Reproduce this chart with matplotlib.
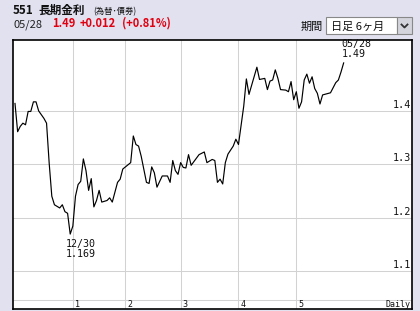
import matplotlib
matplotlib.use('Agg')
import matplotlib.pyplot as plt
from matplotlib.patches import Rectangle

plt.rcParams['font.family'] = ['Noto Sans CJK JP', 'DejaVu Sans']

# trading-day index and yield value
days = [0, 1, 2, 3, 4, 5, 6, 7, 8, 9, 11, 12, 13, 14, 15, 17, 18, 19, 20, 21,
        22, 23, 24, 25, 26, 27, 28, 29, 30, 31, 32, 33, 35, 36, 37, 39, 40, 41,
        44, 45, 46, 47, 48, 50, 51, 52, 53, 54, 56, 58, 59, 60, 61, 62, 63, 64,
        65, 66, 67, 70, 72, 73, 75, 76, 77, 78, 79, 80, 81, 83, 84, 85, 87, 88,
        89, 92, 93, 95, 96, 97, 98, 99, 100, 101, 103, 104, 105, 106, 107, 108,
        109, 110, 111, 112, 113, 114, 115, 116, 117, 120, 122, 123, 124, 125]
values = [1.414, 1.361, 1.371, 1.377, 1.374, 1.399, 1.399, 1.417, 1.417, 1.400,
          1.386, 1.377, 1.302, 1.240, 1.224, 1.218, 1.224, 1.211, 1.208, 1.169,
          1.184, 1.240, 1.262, 1.268, 1.310, 1.288, 1.251, 1.273, 1.220, 1.232,
          1.251, 1.229, 1.232, 1.237, 1.229, 1.266, 1.272, 1.291, 1.303, 1.353,
          1.337, 1.334, 1.315, 1.266, 1.264, 1.295, 1.284, 1.257, 1.278, 1.278,
          1.266, 1.307, 1.288, 1.281, 1.303, 1.294, 1.293, 1.318, 1.298, 1.318,
          1.323, 1.303, 1.309, 1.307, 1.266, 1.272, 1.263, 1.303, 1.319, 1.334,
          1.347, 1.337, 1.409, 1.460, 1.431, 1.482, 1.459, 1.461, 1.440, 1.456,
          1.458, 1.477, 1.461, 1.440, 1.439, 1.436, 1.455, 1.421, 1.436, 1.405,
          1.417, 1.458, 1.469, 1.452, 1.464, 1.442, 1.433, 1.413, 1.430, 1.434,
          1.453, 1.458, 1.473, 1.490]

month_starts = [22, 42, 63, 85, 107]
month_labels = ['1', '2', '3', '4', '5']
y_ticks = [1.1, 1.2, 1.3, 1.4]

low_idx, low_date, low_val = 21, '12/30', '1.169'
last_date, last_val = '05/28', '1.49'

bg = '#e1e1f0'
grid_c = '#d2d2d2'
mono = 'DejaVu Sans Mono'

fig = plt.figure(figsize=(4.2, 3.11), dpi=100)
fig.patch.set_facecolor(bg)
W, H = 420.0, 311.0

ax = fig.add_axes([13 / W, 2 / H, 399 / W, 269 / H])
ax.set_facecolor('white')
ax.set_xlim(-0.76, 151)
ax.set_ylim(1.0285, 1.533)
ax.set_xticks([])
ax.set_yticks([])
for s in ax.spines.values():
    s.set_color('black')
    s.set_linewidth(1.2)

for m in month_starts:
    ax.axvline(m, color=grid_c, lw=0.75, zorder=1)
for v in y_ticks:
    ax.axhline(v, color=grid_c, lw=0.75, zorder=1)
ax.axhline(1.0454, color=grid_c, lw=0.75, zorder=1)

ax.plot(days, values, color='black', lw=0.85, zorder=3)

# y labels inside, right side
for v in y_ticks:
    ax.annotate(f'{v:.1f}', xy=(1, v), xycoords=('axes fraction', 'data'),
                xytext=(-1, 1), textcoords='offset pixels',
                ha='right', va='bottom', fontsize=7.3, family=mono, color='#111')

# month labels at the bottom
for m, lab in zip(month_starts, month_labels):
    ax.annotate(lab, xy=(m, 0), xycoords=('data', 'axes fraction'),
                xytext=(2, 0), textcoords='offset pixels',
                ha='left', va='bottom', fontsize=6, family=mono, color='#111')
ax.annotate('Daily', xy=(1, 0), xycoords='axes fraction',
            xytext=(-1, 0), textcoords='offset pixels',
            ha='right', va='bottom', fontsize=6, family=mono, color='#111')

# low and last point notes
ax.annotate(f'{low_date}\n{low_val}', xy=(low_idx, values[days.index(low_idx)]),
            xytext=(-4, -5), textcoords='offset pixels', ha='left', va='top',
            fontsize=7.2, family=mono, linespacing=0.95, color='#111')
ax.annotate(f'{last_date}\n{last_val}', xy=(days[-1], values[-1]),
            xytext=(-2, 4), textcoords='offset pixels', ha='left', va='bottom',
            fontsize=7.2, family=mono, linespacing=0.95, color='#111')

# header
red = '#e0000f'
fig.text(13 / W, 1 - 14 / H, '551', fontsize=8.4, fontweight='bold',
         color='#111', va='baseline')
fig.text(38 / W, 1 - 14 / H, '長期金利', fontsize=8.4, fontweight='bold',
         color='#111', va='baseline')
fig.text(93 / W, 1 - 14 / H, '(為替･債券)', fontsize=6, color='#111',
         va='baseline')
fig.text(13 / W, 1 - 27 / H, '05/28', fontsize=8, color='#222', va='baseline')
fig.text(52 / W, 1 - 27 / H, '1.49', fontsize=8, fontweight='bold', color=red,
         va='baseline')
fig.text(80 / W, 1 - 27 / H, '+0.012', fontsize=8, fontweight='bold', color=red,
         va='baseline')
fig.text(122 / W, 1 - 27 / H, '(+0.81%)', fontsize=8, fontweight='bold',
         color=red, va='baseline')

# period selector
fig.text(301 / W, 1 - 30 / H, '期間', fontsize=8, color='#111', va='baseline')
fig.patches.append(Rectangle((326 / W, 1 - 34 / H), 71 / W, 17 / H,
                             transform=fig.transFigure, facecolor='white',
                             edgecolor='#888', lw=0.8))
fig.text(331 / W, 1 - 30 / H, '日足 6ヶ月', fontsize=8, color='#111',
         va='baseline')
fig.patches.append(Rectangle((397 / W, 1 - 34 / H), 15 / W, 17 / H,
                             transform=fig.transFigure, facecolor='#d4d4dc',
                             edgecolor='#888', lw=0.8))
fig.lines.append(plt.Line2D([401.5 / W, 404.5 / W, 407.5 / W],
                            [1 - 24.5 / H, 1 - 27.5 / H, 1 - 24.5 / H],
                            transform=fig.transFigure, color='#333', lw=1.3))

fig.savefig('out.png', dpi=100, facecolor=fig.get_facecolor())
